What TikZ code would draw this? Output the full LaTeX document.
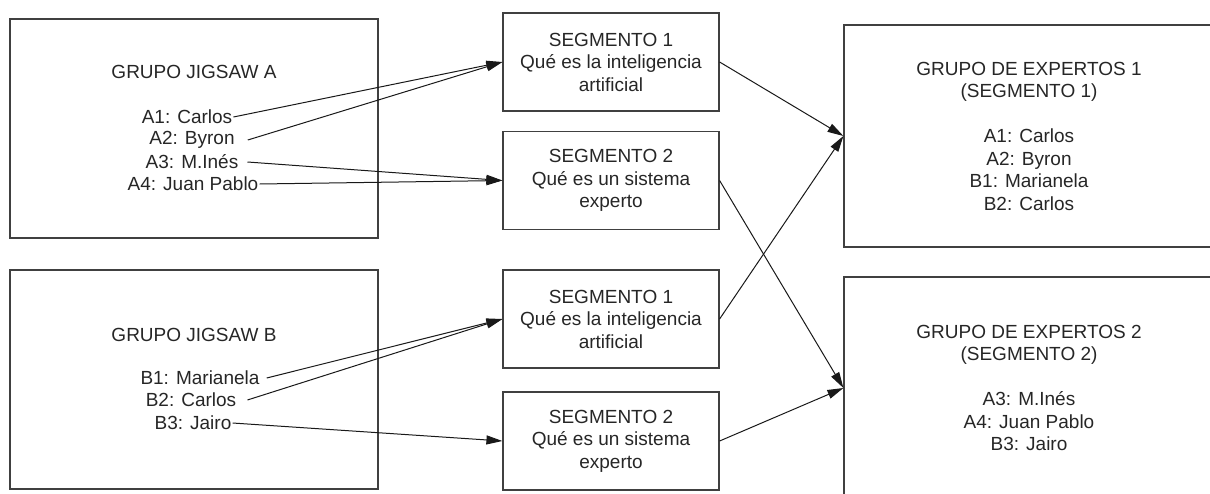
\documentclass[tikz,border=0pt]{standalone}
\usepackage{fontspec}
\setmainfont{Liberation Sans}
\usetikzlibrary{arrows.meta}

\tikzset{
  every node/.style={font=\fontsize{19}{22.5}\selectfont, text=black!85},
  grupo/.style={draw=black!75, line width=1.2pt, minimum width=368pt, minimum height=219pt},
  segmento/.style={draw=black!75, line width=1.2pt, minimum width=216pt, minimum height=98pt, align=center, inner sep=0pt},
  expertos/.style={draw=black!75, line width=1.2pt, minimum width=370pt, minimum height=222pt, align=center, inner sep=0pt},
  miembro/.style={inner sep=1pt},
  flecha/.style={-{Triangle[length=16pt,width=9pt]}, line width=1pt, black!90}
}

\begin{document}
\begin{tikzpicture}[x=1pt, y=-1pt]
  \useasboundingbox (0,0) rectangle (1210,493);
  \clip (0,0) rectangle (1210,493);

  % grupos jigsaw
  \node[grupo] (ja) at (194,128.5) {};
  \node (tja) at (194,72) {GRUPO JIGSAW A};
  \node[miembro] (a1) at (187,117) {A1: Carlos};
  \node[miembro] (a2) at (192,140) {A2: Byron};
  \node[miembro] (a3) at (192,162) {A3: M.Inés};
  \node[miembro] (a4) at (193,184) {A4: Juan Pablo};

  \node[grupo] (jb) at (194,379.5) {};
  \node (tjb) at (194,335) {GRUPO JIGSAW B};
  \node[miembro] (b1) at (200,378) {B1: Marianela};
  \node[miembro] (b2) at (191,400) {B2: Carlos};
  \node[miembro] (b3) at (193,423) {B3: Jairo};

  % segmentos
  \node[segmento] (s1a) at (611,62) {SEGMENTO 1\\Qué es la inteligencia\\artificial};
  \node[segmento] (s2a) at (611,180.5) {SEGMENTO 2\\Qué es un sistema\\experto};
  \node[segmento] (s1b) at (611,319) {SEGMENTO 1\\Qué es la inteligencia\\artificial};
  \node[segmento] (s2b) at (611,441) {SEGMENTO 2\\Qué es un sistema\\experto};

  % grupos de expertos
  \node[expertos] (e1) at (1029,136) {GRUPO DE EXPERTOS 1\\(SEGMENTO 1)\\[22.5pt]A1: Carlos\\A2: Byron\\B1: Marianela\\B2: Carlos};
  \node[expertos] (e2) at (1029,388) {GRUPO DE EXPERTOS 2\\(SEGMENTO 2)\\[22.5pt]A3: M.Inés\\A4: Juan Pablo\\B3: Jairo};

  \draw[flecha] (a1.east) -- (s1a.west);
  \draw[flecha] ([xshift=12pt]a2.east) -- (s1a.west);
  \draw[flecha] ([xshift=8pt]a3.east) -- (s2a.west);
  \draw[flecha] (a4.east) -- (s2a.west);

  \draw[flecha] ([xshift=6pt]b1.east) -- (s1b.west);
  \draw[flecha] ([xshift=10pt]b2.east) -- (s1b.west);
  \draw[flecha] (b3.east) -- (s2b.west);

  \draw[flecha] (s1a.east) -- (e1.west);
  \draw[flecha] (s1b.east) -- (e1.west);
  \draw[flecha] (s2a.east) -- (e2.west);
  \draw[flecha] (s2b.east) -- (e2.west);
\end{tikzpicture}
\end{document}
